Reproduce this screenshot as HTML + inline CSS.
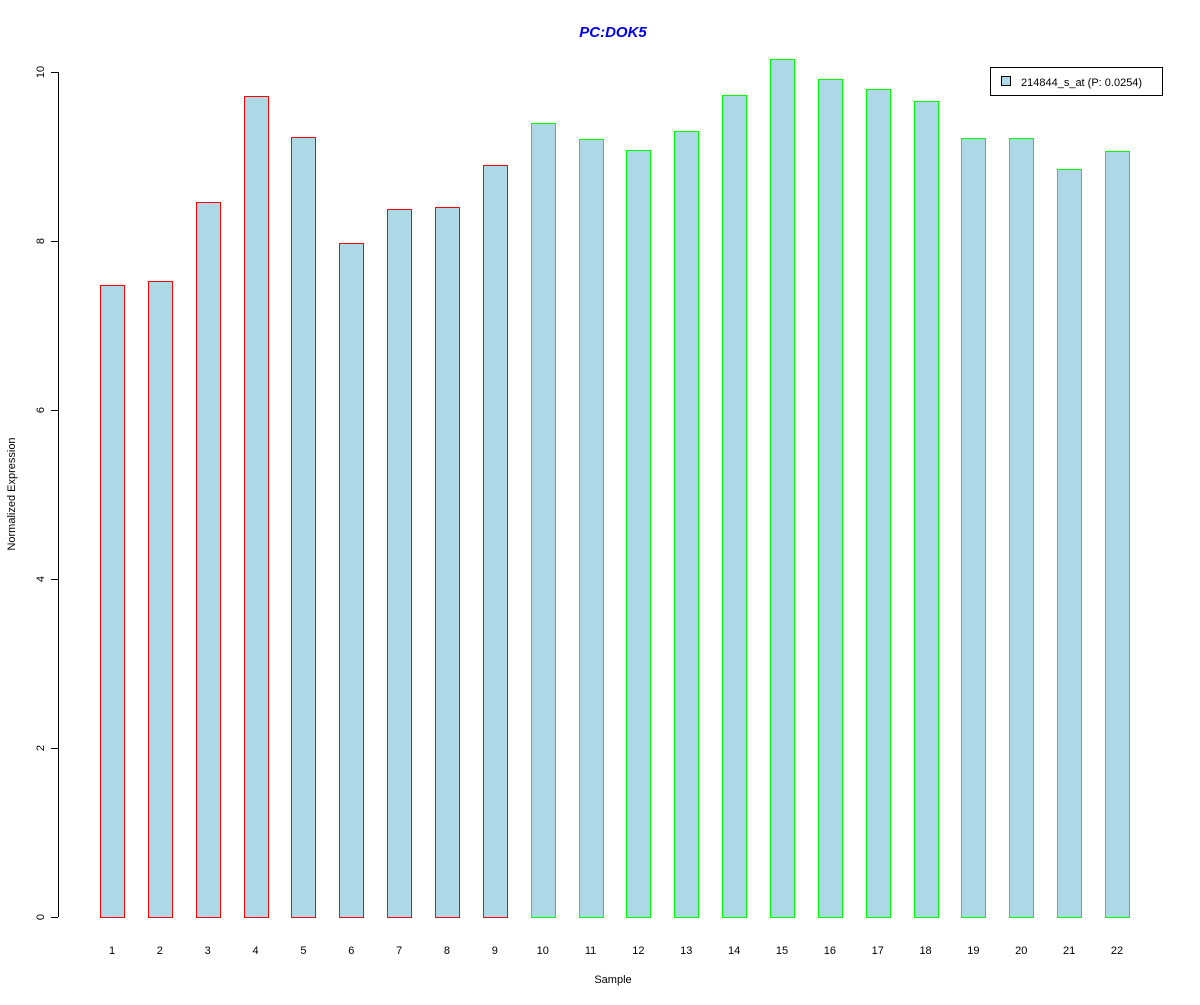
<!DOCTYPE html>
<html><head><meta charset="utf-8"><style>
body{margin:0;background:#fff;}
svg text{font-family:"Liberation Sans",Arial,sans-serif;}
</style></head><body>
<svg id="chart" width="1200" height="1000" xmlns="http://www.w3.org/2000/svg">
<rect width="1200" height="1000" fill="#fff"/>
<text x="613" y="37" text-anchor="middle" font-size="15" font-weight="bold" font-style="italic" fill="#0000ee">PC:DOK5</text>
<text x="613" y="983" text-anchor="middle" font-size="11">Sample</text>
<text transform="translate(15,494) rotate(-90)" text-anchor="middle" font-size="11">Normalized Expression</text>
<g id="yaxis" shape-rendering="crispEdges"></g>
<g id="bars" shape-rendering="crispEdges"></g>
<g id="xlabels"></g>
<g shape-rendering="crispEdges">
<rect x="990.5" y="67.5" width="172" height="28" fill="#fff" stroke="#000"/>
<rect x="1001.5" y="76.5" width="9" height="9" fill="#add8e6" stroke="#000"/>
<text x="1021" y="86" font-size="11">214844_s_at (P: 0.0254)</text>
</g>
</svg>
<script>
const categories=["1","2","3","4","5","6","7","8","9","10","11","12","13","14","15","16","17","18","19","20","21","22"];
const values=[7.48,7.53,8.46,9.72,9.23,7.98,8.38,8.40,8.90,9.40,9.21,9.08,9.30,9.73,10.15,9.92,9.80,9.66,9.22,9.22,8.85,9.07];
const groups=["r","r","r","r","r","r","r","r","r","g","g","g","g","g","g","g","g","g","g","g","g","g"];
const yTicks=[0,2,4,6,8,10];
const NS="http://www.w3.org/2000/svg";
const y=v=>917-v*84.5;
const x=i=>112+i*47.857;
function mk(t,a,p){const e=document.createElementNS(NS,t);for(const k in a)e.setAttribute(k,a[k]);p.appendChild(e);return e;}
const ya=document.getElementById('yaxis');
mk('line',{x1:58.5,x2:58.5,y1:y(0),y2:y(10),stroke:'#000'},ya);
yTicks.forEach(t=>{
 const l=mk('line',{x1:51,x2:58,y1:Math.round(y(t))+0.5,y2:Math.round(y(t))+0.5,stroke:'#000'},ya);
 
 
 const tx=mk('text',{transform:`translate(44,${y(t)}) rotate(-90)`,'text-anchor':'middle','font-size':11},ya);
 
 
 tx.textContent=t;
});
const bg=document.getElementById('bars'),xl=document.getElementById('xlabels');
values.forEach((v,i)=>{
 const left=Math.round(x(i)-12)+0.5, top=Math.round(y(v))+0.5;
 const r=mk('rect',{x:left,y:top,width:24,height:Math.round(y(0))+0.5-top,fill:'#add8e6',stroke:groups[i]==='r'?'#ff0000':'#00ff00'},bg);
 
 
 const t=mk('text',{x:x(i),y:954,'text-anchor':'middle','font-size':11},xl);
 
 
 t.textContent=categories[i];
});
</script>
</body></html>
